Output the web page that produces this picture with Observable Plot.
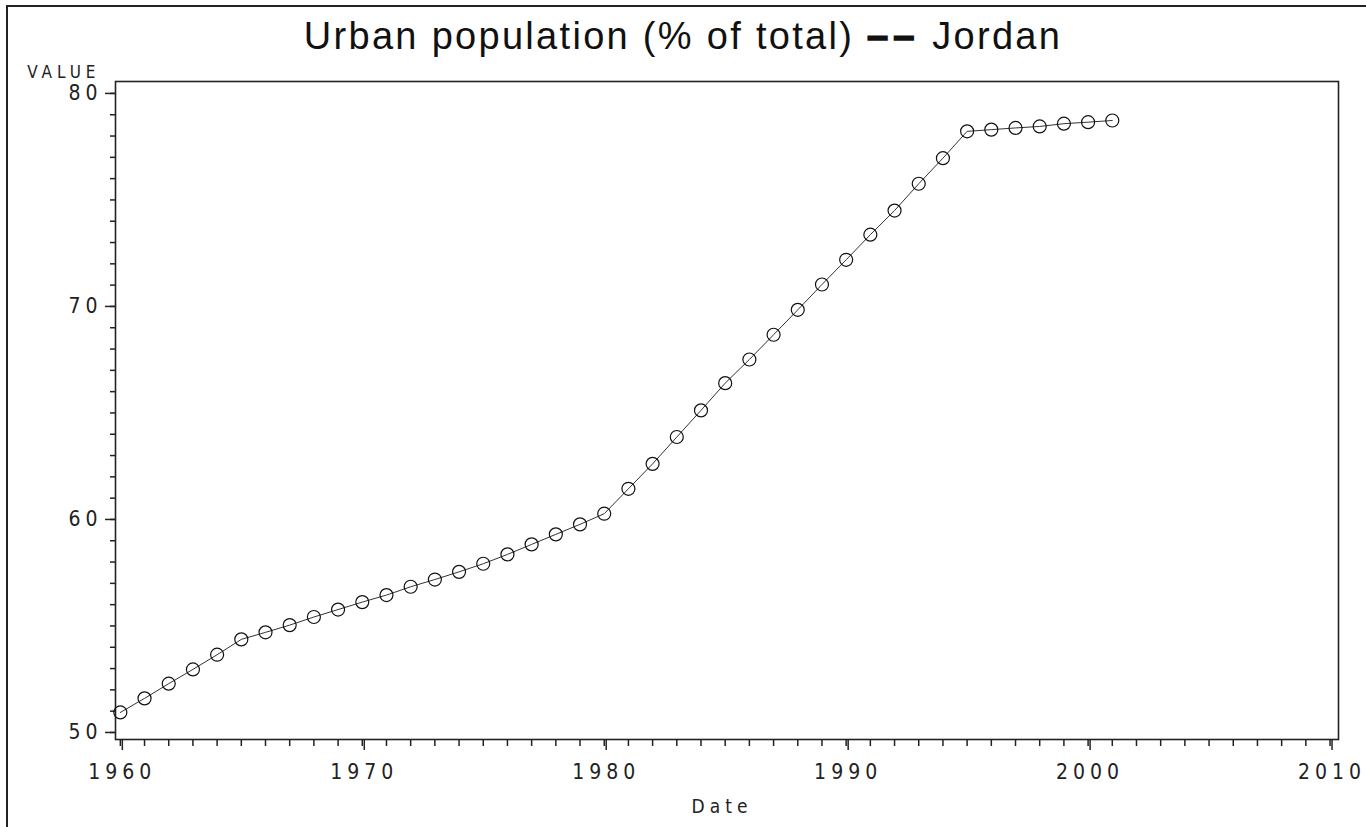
<!DOCTYPE html>
<html>
<head>
<meta charset="utf-8">
<script src="https://cdn.jsdelivr.net/npm/d3@7"></script>
<script src="https://cdn.jsdelivr.net/npm/@observablehq/plot@0.6"></script>
<style>
  html, body { margin: 0; padding: 0; background: #fff; }
  #wrap { position: relative; width: 1366px; height: 827px; overflow: hidden; }
  #border { position: absolute; left: 6px; top: 5px; width: 1400px; height: 900px;
            border-left: 2px solid #222; border-top: 2px solid #222; }
  #title { position: absolute; left: 0; top: 17px; width: 1366px; text-align: center;
           font-family: "Liberation Sans", Arial, sans-serif; font-size: 38px; line-height: 1;
           letter-spacing: 2.3px; color: #111; }
  #title b { font-weight: bold; letter-spacing: 5px; -webkit-text-stroke: 1.5px #111; }
  #chart { position: absolute; left: 0; top: 0; }
  g[aria-label="x-axis tick label"] text,
  g[aria-label="y-axis tick label"] text,
  .lbl text { letter-spacing: 5px; }
</style>
</head>
<body>
<div id="wrap">
  <div id="border"></div>
  <div id="chart"></div>
  <div id="title">Urban population (% of total) <b>&#8211;&#8211;</b> Jordan</div>
</div>
<script>
// Data: Urban population (% of total), Jordan
const years = [1960,1961,1962,1963,1964,1965,1966,1967,1968,1969,
               1970,1971,1972,1973,1974,1975,1976,1977,1978,1979,
               1980,1981,1982,1983,1984,1985,1986,1987,1988,1989,
               1990,1991,1992,1993,1994,1995,1996,1997,1998,1999,
               2000,2001];
const values = [50.94,51.60,52.29,52.96,53.65,54.37,54.70,55.04,55.42,55.77,
                56.12,56.45,56.84,57.18,57.54,57.92,58.36,58.83,59.30,59.77,
                60.27,61.44,62.61,63.87,65.12,66.40,67.51,68.67,69.84,71.03,
                72.19,73.37,74.50,75.76,76.96,78.22,78.30,78.38,78.45,78.58,
                78.65,78.73];
const xMajorTicks = [1960, 1970, 1980, 1990, 2000, 2010];
const yMajorTicks = [50, 60, 70, 80];
const xLabel = "Date";
const yLabel = "VALUE";

const data = years.map((y, i) => ({year: y, value: values[i]}));
const xMinorTicks = d3.range(1960, 2011, 1);
const yMinorTicks = d3.range(50, 81, 1);

const tickFont = "'Liberation Sans Narrow', 'DejaVu Sans Condensed', sans-serif";
const noLabel = () => "";

const chart = Plot.plot({
  width: 1366,
  height: 827,
  marginLeft: 115,
  marginTop: 81,
  marginRight: 28,
  marginBottom: 88,
  style: {fontFamily: tickFont, fontSize: "21px", color: "#222", background: "transparent"},
  x: {domain: [1959.8, 2010.35]},
  y: {domain: [49.67, 80.56]},
  marks: [
    Plot.frame({stroke: "#222", strokeWidth: 1.6}),
    Plot.axisX({ticks: xMinorTicks, tickSize: 7, tickFormat: noLabel, label: null, strokeWidth: 1.5}),
    Plot.axisX({ticks: xMajorTicks, tickSize: 11, tickPadding: 14, tickFormat: d => String(d), label: null, strokeWidth: 1.5, dx: 2}),
    Plot.axisY({ticks: yMinorTicks, tickSize: 5, tickFormat: noLabel, label: null, strokeWidth: 1.5}),
    Plot.axisY({ticks: yMajorTicks, tickSize: 10, tickPadding: 3, tickFormat: d => String(d), label: null, strokeWidth: 1.5}),
    Plot.line(data, {x: "year", y: "value", stroke: "#333", strokeWidth: 1}),
    Plot.dot(data, {x: "year", y: "value", r: 6.5, stroke: "#111", strokeWidth: 1.2, fill: "none"}),
    Plot.text([yLabel], {frameAnchor: "top-left", textAnchor: "end", lineAnchor: "middle", dx: -15, dy: -9, fontSize: 17, className: "lbl"}),
    Plot.text([xLabel], {frameAnchor: "bottom", textAnchor: "middle", lineAnchor: "middle", dx: -5, dy: 67, fontSize: 19, className: "lbl"})
  ]
});
document.getElementById("chart").appendChild(chart);
</script>
</body>
</html>
